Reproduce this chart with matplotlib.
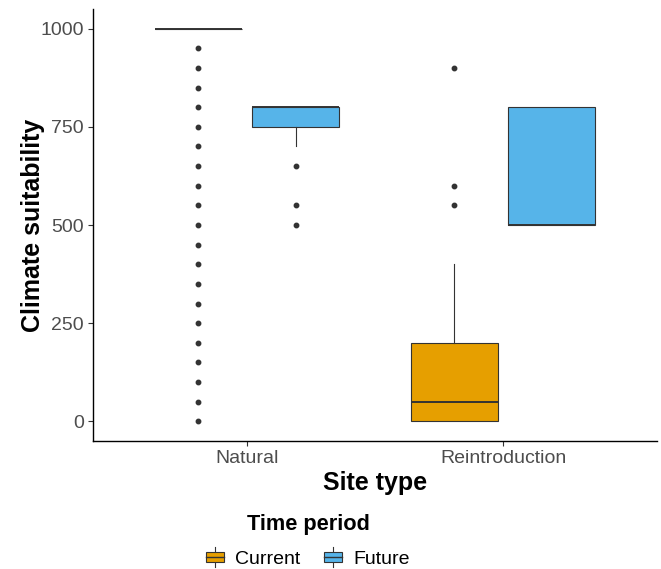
import matplotlib
matplotlib.use("Agg")
import matplotlib.pyplot as plt
from matplotlib.patches import Patch, Rectangle
from matplotlib.lines import Line2D
from matplotlib.legend_handler import HandlerBase

plt.rcParams['font.family'] = ['Liberation Sans', 'DejaVu Sans']

# ---- data ----
sites = ["Natural", "Reintroduction"]
periods = ["Current", "Future"]
period_colors = ["#E69F00", "#56B4E9"]

current_q1 = [1000, 0]
current_med = [1000, 50]
current_q3 = [1000, 200]
current_whislo = [1000, 0]
current_whishi = [1000, 400]
current_fliers = [
    [0, 50, 100, 150, 200, 250, 300, 350, 400, 450,
     500, 550, 600, 650, 700, 750, 800, 850, 900, 950],
    [550, 600, 900],
]

future_q1 = [750, 500]
future_med = [800, 500]
future_q3 = [800, 800]
future_whislo = [700, 500]
future_whishi = [800, 800]
future_fliers = [
    [500, 550, 650],
    [],
]

y_ticks = [0, 250, 500, 750, 1000]

# ---- figure ----
W, H = 661, 569
fig = plt.figure(figsize=(W / 100, H / 100), dpi=100)
ax = fig.add_axes([93 / W, 1 - 441 / H, (657 - 93) / W, (441 - 9) / H])

def make_stats(q1, med, q3, lo, hi, fl):
    return [dict(q1=q1[i], med=med[i], q3=q3[i], whislo=lo[i], whishi=hi[i], fliers=fl[i])
            for i in range(len(q1))]

groups = [
    make_stats(current_q1, current_med, current_q3, current_whislo, current_whishi, current_fliers),
    make_stats(future_q1, future_med, future_q3, future_whislo, future_whishi, future_fliers),
]

offset = 0.19
bwidth = 0.34
edge = "#333333"
for gi, (stats, col) in enumerate(zip(groups, period_colors)):
    pos = [i + 1 + (gi * 2 - 1) * offset for i in range(len(sites))]
    ax.bxp(stats, positions=pos, widths=bwidth, patch_artist=True, showcaps=False,
           boxprops=dict(facecolor=col, edgecolor=edge, linewidth=0.8),
           medianprops=dict(color=edge, linewidth=1.4),
           whiskerprops=dict(color=edge, linewidth=0.8),
           flierprops=dict(marker='o', markerfacecolor=edge, markeredgecolor=edge,
                           markersize=3.2, linestyle='none'),
           manage_ticks=False)

ax.set_xlim(0.4, 2.6)
ax.set_ylim(-50, 1050)
ax.set_xticks([1, 2])
ax.set_xticklabels(sites)
ax.set_yticks(y_ticks)
ax.set_yticklabels([str(v) for v in y_ticks])
for s in ['top', 'right']:
    ax.spines[s].set_visible(False)
for s in ['left', 'bottom']:
    ax.spines[s].set_color('black')
    ax.spines[s].set_linewidth(1.0)
ax.tick_params(axis='both', colors='#333333', labelcolor='#4D4D4D', labelsize=14,
               length=3.5, width=0.8, pad=3)

ax.set_xlabel("Site type", fontsize=18, fontweight='bold', labelpad=3)
ax.set_ylabel("Climate suitability", fontsize=18, fontweight='bold', labelpad=-3)


class BoxHandler(HandlerBase):
    def create_artists(self, legend, orig_handle, xdescent, ydescent, width, height,
                       fontsize, trans):
        fc = orig_handle.get_facecolor()
        bh = height * 0.75
        y0 = (height - bh) / 2 - ydescent
        x0 = -xdescent
        rect = Rectangle((x0, y0), width, bh, facecolor=fc, edgecolor=edge,
                         linewidth=0.8, transform=trans)
        midy = y0 + bh / 2
        med = Line2D([x0, x0 + width], [midy, midy], color=edge, linewidth=1.0, transform=trans)
        cx = x0 + width / 2
        w1 = Line2D([cx, cx], [y0 + bh, y0 + bh + height * 0.3], color=edge, linewidth=0.8,
                    transform=trans)
        w2 = Line2D([cx, cx], [y0, y0 - height * 0.3], color=edge, linewidth=0.8,
                    transform=trans)
        return [w1, w2, rect, med]


handles = [Patch(facecolor=c, edgecolor=edge) for c in period_colors]
leg = fig.legend(handles, periods, handler_map={Patch: BoxHandler()},
                 loc='center', bbox_to_anchor=(308 / W, 1 - 541 / H), ncol=2,
                 frameon=False, fontsize=14, title="Time period",
                 title_fontproperties=dict(weight='bold', size=15.7),
                 handlelength=0.9, handleheight=0.75, handletextpad=0.6,
                 columnspacing=1.2, labelspacing=0.75)

fig.savefig("out.png", dpi=100)
